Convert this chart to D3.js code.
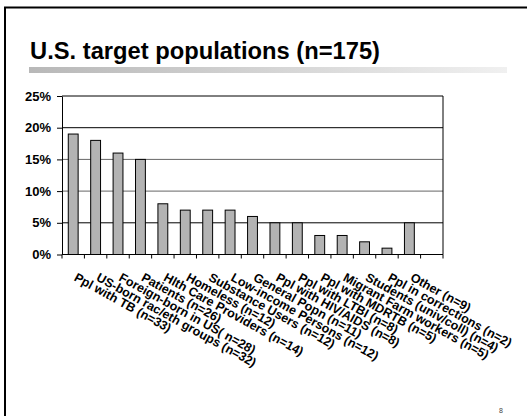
<!DOCTYPE html>
<html>
<head>
<meta charset="utf-8">
<script src="https://cdn.jsdelivr.net/npm/d3@7/dist/d3.min.js"></script>
<style>
  html, body { margin: 0; padding: 0; background: #fff; }
  svg { display: block; font-family: Arial, "Liberation Sans", sans-serif; }
</style>
</head>
<body>
<svg id="chart" width="527" height="416"></svg>
<script>
// Target population groups and their share of programs (%)
const categories = [
  "Ppl with TB (n=33)",
  "US-born rac/eth groups (n=32)",
  "Foreign-born in US( n=28)",
  "Patients (n=26)",
  "Hlth Care Providers (n=14)",
  "Homeless (n=12)",
  "Substance Users (n=12)",
  "Low-income Persons (n=12)",
  "General Popn (n=11)",
  "Ppl with HIV/AIDS (n=8)",
  "Ppl with LTBI (n=8)",
  "Ppl with MDRTB (n=5)",
  "Migrant Farm workers (n=5)",
  "Students (univ/coll) (n=4)",
  "Ppl in corrections (n=2)",
  "Other (n=9)",
  ""
];
const percents = [19, 18, 16, 15, 8, 7, 7, 7, 6, 5, 5, 3, 3, 2, 1, 5, null];
const yTicks = [0, 5, 10, 15, 20, 25];
const titleText = "U.S. target populations (n=175)";
const pageNumber = "8";

const svg = d3.select("#chart");

// Slide frame (right and bottom edges fall outside the view)
svg.append("rect")
  .attr("x", 5).attr("y", 7.5)
  .attr("width", 560).attr("height", 460)
  .attr("fill", "none").attr("stroke", "#000").attr("stroke-width", 2);

// Title and the shaded rule under it
const grad = svg.append("defs").append("linearGradient")
  .attr("id", "rule").attr("x1", "0%").attr("x2", "100%");
grad.append("stop").attr("offset", "0%").attr("stop-color", "#b8b8b8");
grad.append("stop").attr("offset", "100%").attr("stop-color", "#f0f0f0");

svg.append("text")
  .attr("x", 30).attr("y", 59)
  .attr("font-size", 23).attr("font-weight", "bold")
  .attr("fill", "#000")
  .attr("textLength", 350).attr("lengthAdjust", "spacingAndGlyphs")
  .text(titleText);

svg.append("rect")
  .attr("x", 29).attr("y", 67).attr("width", 478).attr("height", 6)
  .attr("fill", "url(#rule)");

// Plot area
const plot = { left: 62, right: 443, top: 96, bottom: 254.5 };

const x = d3.scaleBand()
  .domain(d3.range(categories.length))
  .range([plot.left, plot.right])
  .paddingInner(0.56)
  .paddingOuter(0.28);

const slot = (plot.right - plot.left) / categories.length;

const y = d3.scaleLinear()
  .domain([0, 25])
  .range([plot.bottom, plot.top]);

const g = svg.append("g");

// Horizontal gridlines
g.selectAll("line.grid")
  .data(yTicks.filter(d => d > 0))
  .join("line")
  .attr("class", "grid")
  .attr("x1", plot.left).attr("x2", plot.right)
  .attr("y1", d => y(d)).attr("y2", d => y(d))
  .attr("stroke", d => (d === 10 || d === 15) ? "#666" : "#000")
  .attr("stroke-width", 1);

// Right border of the plot area
g.append("line")
  .attr("x1", plot.right).attr("x2", plot.right)
  .attr("y1", plot.top).attr("y2", plot.bottom)
  .attr("stroke", "#000");

// Bars
g.selectAll("rect.bar")
  .data(percents.map((v, i) => ({ v, i })).filter(d => d.v != null))
  .join("rect")
  .attr("class", "bar")
  .attr("x", d => x(d.i))
  .attr("width", x.bandwidth())
  .attr("y", d => y(d.v))
  .attr("height", d => y(0) - y(d.v))
  .attr("fill", "#b3b3b3")
  .attr("stroke", "#000")
  .attr("stroke-width", 1);

// Y axis
const yAxis = d3.axisLeft(y)
  .tickValues(yTicks)
  .tickFormat(d => d + "%")
  .tickSizeInner(5)
  .tickSizeOuter(0)
  .tickPadding(6);

const ya = svg.append("g")
  .attr("transform", `translate(${plot.left},0)`)
  .call(yAxis);
ya.select(".domain").attr("stroke", "#000");
ya.selectAll(".tick line").attr("stroke", "#000");
ya.selectAll(".tick text")
  .attr("font-size", 13).attr("font-weight", "bold")
  .attr("font-family", "Arial, 'Liberation Sans', sans-serif")
  .attr("fill", "#000");

// X axis: tick marks at category boundaries
const boundaries = d3.range(categories.length + 1).map(i => plot.left + i * slot);
svg.append("line")
  .attr("x1", plot.left).attr("x2", plot.right)
  .attr("y1", plot.bottom).attr("y2", plot.bottom)
  .attr("stroke", "#000");
svg.selectAll("line.xtick")
  .data(boundaries)
  .join("line")
  .attr("class", "xtick")
  .attr("x1", d => d).attr("x2", d => d)
  .attr("y1", plot.bottom).attr("y2", plot.bottom + 4)
  .attr("stroke", "#000");

// Slanted category labels
svg.selectAll("text.cat")
  .data(categories.map((c, i) => ({ c, i })).filter(d => d.c))
  .join("text")
  .attr("class", "cat")
  .attr("transform", d => `translate(${x(d.i) + x.bandwidth() / 2},280) rotate(29)`)
  .attr("font-size", 12.5).attr("font-weight", "bold")
  .attr("fill", "#000")
  .text(d => d.c);

// Page number
svg.append("text")
  .attr("x", 501).attr("y", 413)
  .attr("text-anchor", "middle")
  .attr("font-size", 7)
  .attr("fill", "#444")
  .text(pageNumber);
</script>
</body>
</html>
